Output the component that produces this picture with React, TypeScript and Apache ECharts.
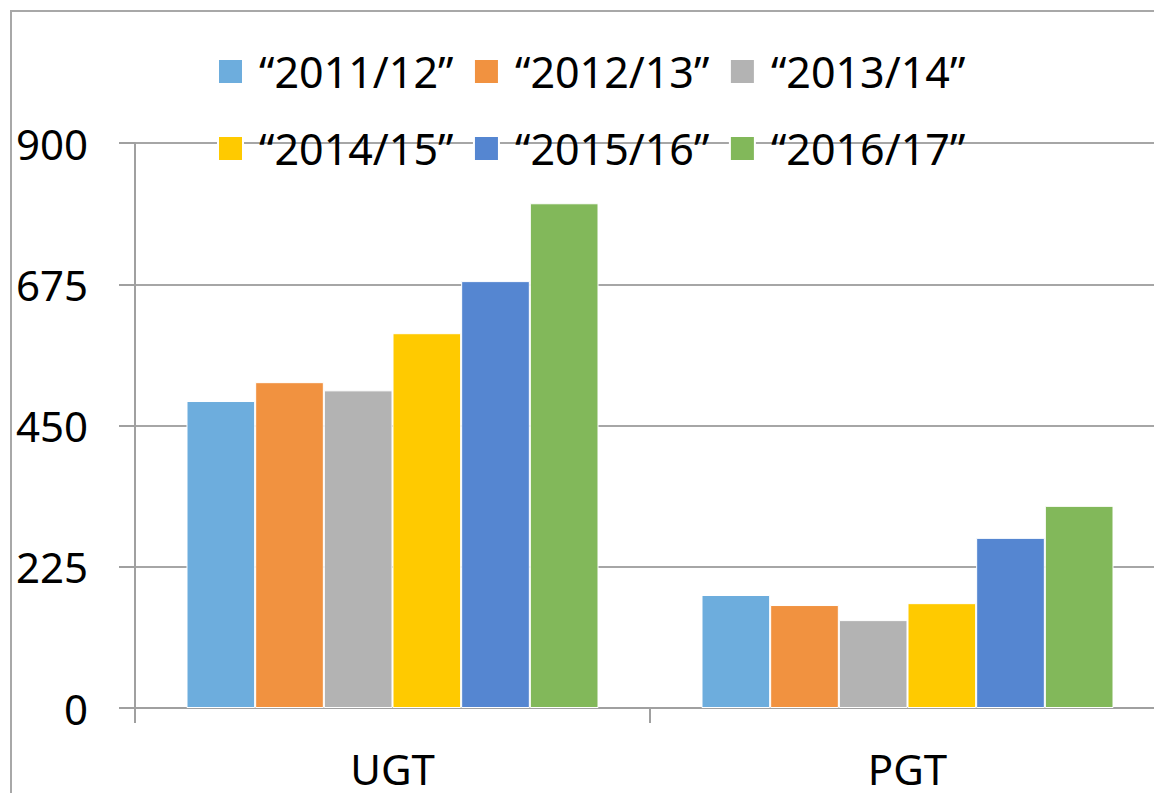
import React, { useEffect, useRef } from "react";
import * as echarts from "echarts";

const categories = ["UGT", "PGT"];
const seriesNames = ["“2011/12”", "“2012/13”", "“2013/14”", "“2014/15”", "“2015/16”", "“2016/17”"];
const colors = ["#6DADDD", "#F19240", "#B3B3B3", "#FFCA00", "#5586D1", "#82B85A"];
const v2011 = [489, 180];
const v2012 = [519, 164];
const v2013 = [506, 140];
const v2014 = [597, 167];
const v2015 = [680, 271];
const v2016 = [804, 322];
const allValues = [v2011, v2012, v2013, v2014, v2015, v2016];
const yTicks = { min: 0, max: 900, interval: 225 };

const FONT = "Noto Sans";

export default function App() {
  const ref = useRef<HTMLDivElement>(null);
  useEffect(() => {
    if (!ref.current) return;
    const chart = echarts.init(ref.current, undefined, { renderer: "svg" });
    const legendCommon = {
      orient: "horizontal",
      padding: 0,
      itemWidth: 25,
      itemHeight: 25,
      itemGap: 19.5,
      icon: "rect",
      textStyle: {
        fontFamily: FONT,
        fontSize: 43,
        color: "#000",
        width: 200,
        padding: [0, 0, 0, 11],
      },
    };
    chart.setOption({
      animation: false,
      backgroundColor: "#fff",
      color: colors,
      legend: [
        { ...legendCommon, left: 217, top: 50, data: seriesNames.slice(0, 3) },
        { ...legendCommon, left: 217, top: 127, data: seriesNames.slice(3, 6) },
      ],
      grid: { left: 135, top: 143, right: 5, bottom: 85, containLabel: false },
      xAxis: {
        type: "category",
        data: categories,
        axisLine: { lineStyle: { color: "#A0A0A0", width: 2 } },
        axisTick: { show: true, length: 15, lineStyle: { color: "#A0A0A0", width: 2 } },
        axisLabel: { fontFamily: FONT, fontSize: 42, lineHeight: 34, color: "#000", margin: 43 },
      },
      yAxis: {
        type: "value",
        min: yTicks.min,
        max: yTicks.max,
        interval: yTicks.interval,
        axisLine: { show: true, lineStyle: { color: "#A0A0A0", width: 2 } },
        axisTick: { show: true, length: 16, lineStyle: { color: "#A0A0A0", width: 2 } },
        axisLabel: { fontFamily: FONT, fontSize: 42, color: "#000", margin: 47 },
        splitLine: { lineStyle: { color: "#A6A6A6", width: 2 } },
      },
      graphic: [
        {
          type: "rect",
          shape: { x: 11, y: 11, width: 2000, height: 2000 },
          style: { fill: "none", stroke: "#A8A8A8", lineWidth: 2 },
          silent: true,
        },
      ],
      series: seriesNames.map((name, i) => ({
        name,
        type: "bar",
        data: allValues[i],
        barGap: "0%",
        barCategoryGap: "20%",
        itemStyle: { color: colors[i], borderColor: "#fff", borderWidth: 1 },
      })),
    });
    return () => chart.dispose();
  }, []);
  return (
    <div
      style={{ position: "absolute", left: 0, top: 0, width: 1154, height: 793, overflow: "hidden" }}
    >
      <div ref={ref} style={{ width: 1170, height: 793 }} />
    </div>
  );
}
